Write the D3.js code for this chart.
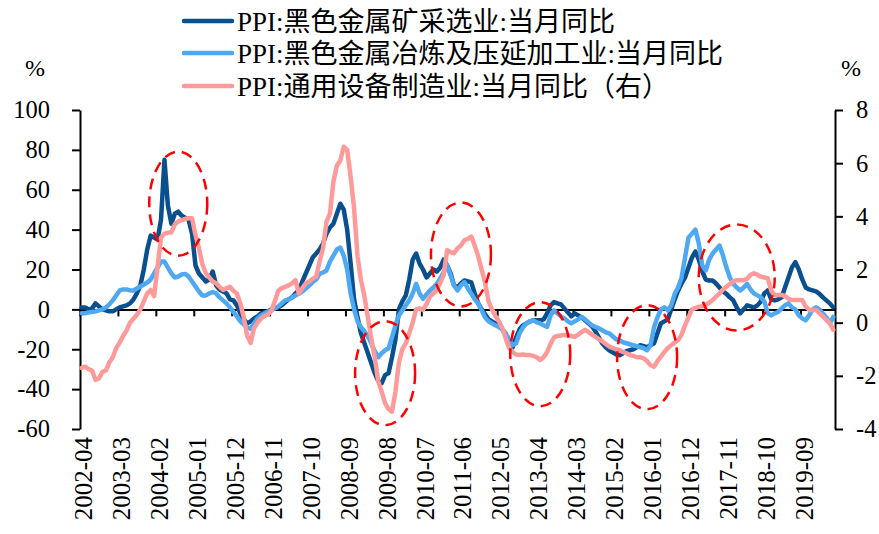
<!DOCTYPE html>
<html>
<head>
<meta charset="utf-8">
<script src="https://cdn.jsdelivr.net/npm/d3@7"></script>
<style>
  html, body { margin: 0; padding: 0; background: #fff; }
  svg { display: block; }
  .serif { font-family: "Liberation Serif", "Noto Sans CJK SC", serif; }
</style>
</head>
<body>
<svg id="chart" width="879" height="534"></svg>
<script>
// Monthly series, starting 2002-04
const startMonth = "2002-04";

// PPI: 黑色金属矿采选业 当月同比 (%)
const miningYoY = [
  1, 1, 0, 0.5, 3, 1.5, 0, -0.5, -1, -1,
  0, 1, 1.5, 2, 3, 5, 8, 12, 20, 30,
  37, 36, 35, 45, 75, 52, 43, 48, 49, 47,
  46, 45, 38, 22, 18, 16, 14, 15, 19, 12,
  10, 9, 8, 5, 4.5, 2, -2, -5, -7, -6,
  -4.5, -3.5, -2, -1.5, -1, 0, 0.5, 1, 2, 3.5,
  5, 6, 8, 9.5, 14, 18, 22, 26, 28, 30,
  33, 38, 41, 43, 48, 53, 50, 40, 23, 5,
  -4, -12, -17, -22, -27, -32, -36, -37, -33, -32,
  -24, -15, 0, 4, 7, 15, 25, 28, 23, 20,
  16, 18, 20, 19, 21, 25, 22, 18, 12, 11,
  13, 14.5, 14, 13.5, 8, 3, 0, -2.5, -5, -6,
  -7, -8, -10, -13, -17, -19, -14, -10, -8, -7,
  -6, -5.5, -5.5, -5.5, -5, -2, 2, 3.7, 3, 2.5,
  0.5, -1.5, -3.5, -2, -3, -4, -5.5, -7, -8.5, -11,
  -14, -17, -19, -20.5, -21.5, -22.5, -23, -22, -21, -20.5,
  -20, -19, -18, -18.5, -19, -18, -17, -12, -7, -6,
  -5, 0, 5, 9.5, 13, 16, 21, 26, 29, 25,
  19, 15, 14.5, 14.5, 13, 11, 9, 7.8, 6, 4.5,
  1, -2, 0, 2, 1.5, 1, 2, 4, 8, 9.5,
  5, 4.5, 5, 6, 11, 16, 21, 23.7, 20, 15,
  11, 10, 9.5, 9, 7.8, 6, 4.5, 3, 1
];

// PPI: 黑色金属冶炼及压延加工业 当月同比 (%)
const smeltingYoY = [
  -2, -2, -1.5, -1.3, -1, -0.5, 0, 1, 2.5, 4.5,
  7, 9.5, 10, 10, 9.5, 9.5, 10.5, 11.5, 12.5, 13.5,
  15, 18, 21, 24, 24, 21, 18, 16, 16.5, 17.5,
  17.8, 16.5, 14, 11.5, 9, 7, 7, 8, 8.7, 8,
  6, 4.5, 3, 1, -1.3, -3.5, -6, -7.5, -9, -9.7,
  -7, -4.5, -3, -2, -1, -0.5, 0.5, 1.5, 3, 4.5,
  5, 6, 7, 7.8, 9, 10.5, 12, 13.7, 15, 17.8,
  18.5, 19.5, 24, 27, 30, 31, 27, 20, 8, 0,
  -6, -9, -11, -13.5, -17, -21, -24, -22, -20.5, -19.5,
  -14, -8, -3, -0.5, 2, 4.5, 8, 12.8, 8, 5.3,
  7.5, 9.5, 11, 12.8, 15.5, 18.5, 22, 17, 12, 9.5,
  12, 13.7, 10.5, 7.8, 5, 3, -0.5, -4, -6, -7,
  -8, -8.8, -10, -12, -15.5, -18, -17, -12, -9, -7,
  -6, -5.5, -6.5, -7, -8, -8.8, -3, -0.5, -2, -3.5,
  -4.5, -6, -7, -6, -5, -3.8, -5, -6.5, -8, -8.8,
  -9.5, -10.5, -11.5, -12, -13.5, -15, -15.5, -16.5, -17, -17.5,
  -18, -18.5, -19, -19.5, -20.5, -18, -9, -4, 0, 1,
  -0.5, 2, 7.8, 11, 16, 26, 36, 38, 40, 33,
  22, 19.5, 25, 28, 30, 32, 27, 21, 16, 12.8,
  11, 9.5, 11, 12.8, 10, 8, 7, 6, 4, -2,
  -3, -2, -1.3, 0.5, 2, 3, 1, 0, -3, -4.5,
  -5.5, -3, 0, 1, 0, -2, -4, -7, -3.8
];

// PPI: 通用设备制造业 当月同比 (%, right axis)
const equipmentYoY = [
  -1.7, -1.65, -1.75, -1.8, -2.15, -2.1, -1.85, -1.8, -1.5, -1.3,
  -0.95, -0.75, -0.5, -0.3, 0, 0.15, 0.3, 0.5, 0.8, 1.1,
  1.23, 1.0, 2.1, 3.2, 3.35, 3.38, 3.4, 3.7, 3.8, 3.86,
  3.9, 3.93, 3.93, 3.3, 2.8, 2.2, 1.86, 1.7, 1.55, 1.48,
  1.35, 1.23, 1.3, 1.35, 1.2, 1.1, 0.73, 0.2, -0.5, -0.76,
  -0.2, 0, 0.15, 0.25, 0.3, 0.45, 0.8, 1.2, 1.3, 1.35,
  1.4, 1.48, 1.6, 1.1, 1.3, 1.48, 1.55, 1.65, 1.73, 2.3,
  2.8, 3.8, 4.1, 5.3, 5.9, 6.1, 6.62, 6.5, 5.5, 4.3,
  2.5, 1.6, 1.0, 0.2, -0.6, -1.3, -2.2, -2.6, -3.03, -3.25,
  -3.35, -2.6, -1.5, -1.0, -0.78, -0.4, 0, 0.5, 0.54, 0.48,
  0.7, 0.98, 1.1, 1.23, 1.5, 1.8, 2.73, 2.65, 2.61, 2.8,
  2.9, 3.1, 3.15, 3.24, 2.9, 2.5, 2.0, 1.5, 0.8, 0.5,
  0.25, 0.05, -0.2, -0.6, -0.95, -1.1, -1.2, -1.22, -1.2, -1.22,
  -1.22, -1.25, -1.3, -1.4, -1.3, -1.1, -0.8, -0.55, -0.5, -0.48,
  -0.46, -0.48, -0.5, -0.53, -0.45, -0.35, -0.27, -0.35, -0.45, -0.53,
  -0.62, -0.7, -0.8, -0.9, -0.95, -1.0, -1.03, -1.1, -1.15, -1.22,
  -1.25, -1.3, -1.3, -1.34, -1.45, -1.6, -1.66, -1.45, -1.28, -1.1,
  -0.95, -0.85, -0.75, -0.65, -0.45, -0.1, 0.2, 0.5, 0.55, 0.6,
  0.62, 0.67, 0.75, 0.85, 0.98, 1.1, 1.25, 1.35, 1.45, 1.55,
  1.6, 1.6, 1.6, 1.65, 1.8, 1.86, 1.8, 1.73, 1.7, 1.67,
  1.2, 1.04, 1.04, 1.04, 1.0, 0.9, 0.85, 0.85, 0.85, 0.85,
  0.6, 0.48, 0.48, 0.48, 0.35, 0.23, 0.1, -0.02, -0.27
];

const xTickLabels = ["2002-04", "2003-03", "2004-02", "2005-01", "2005-12", "2006-11",
  "2007-10", "2008-09", "2009-08", "2010-07", "2011-06", "2012-05", "2013-04",
  "2014-03", "2015-02", "2016-01", "2016-12", "2017-11", "2018-10", "2019-09"];
const leftTicks = [-60, -40, -20, 0, 20, 40, 60, 80, 100];
const rightTicks = [-4, -2, 0, 2, 4, 6, 8];

const seriesNames = [
  "PPI:黑色金属矿采选业:当月同比",
  "PPI:黑色金属冶炼及压延加工业:当月同比",
  "PPI:通用设备制造业:当月同比（右）"
];
const seriesColors = ["#0a4f8e", "#4ea8f2", "#ff9a9a"];

// Highlighted periods: centre month, centre value (left axis)
const highlightMonths = ["2004-08", "2009-08", "2011-06", "2013-05", "2015-12", "2018-02"];
const highlightValues = [53, -32, 27.5, -22.5, -24, 16];

// ---- layout ----
const svg = d3.select("#chart");
const plot = { left: 80, right: 835, top: 110, bottom: 429 };

const parse = d3.timeParse("%Y-%m");
const fmt = d3.timeFormat("%Y-%m");
const n = miningYoY.length;
const months = d3.range(n).map(i => fmt(d3.timeMonth.offset(parse(startMonth), i)));
const idx = m => months.indexOf(m);

const x = d3.scaleLinear().domain([0, n]).range([plot.left, plot.right]);
const yL = d3.scaleLinear().domain([-60, 100]).range([plot.bottom, plot.top]);
const yR = d3.scaleLinear().domain([-4, 8]).range([plot.bottom, plot.top]);

const tickFont = 24.5;
const plainNumber = d => String(d);   // ASCII hyphen for negatives

// Left axis
const gL = svg.append("g")
  .attr("transform", `translate(${plot.left},0)`)
  .call(d3.axisLeft(yL).tickValues(leftTicks).tickFormat(plainNumber)
    .tickSizeInner(8).tickSizeOuter(0).tickPadding(22));
// Right axis
const gR = svg.append("g")
  .attr("transform", `translate(${plot.right},0)`)
  .call(d3.axisRight(yR).tickValues(rightTicks).tickFormat(plainNumber)
    .tickSizeInner(8).tickSizeOuter(0).tickPadding(13));

[gL, gR].forEach(g => {
  g.selectAll("path.domain").attr("stroke", "#000").attr("stroke-width", 2);
  g.selectAll(".tick line").attr("stroke", "#000").attr("stroke-width", 2);
  g.selectAll(".tick text")
    .attr("class", "serif")
    .style("font-size", tickFont + "px")
    .attr("fill", "#000");
});

// Bottom axis at zero line
const tickIdx = xTickLabels.map(idx);
const gX = svg.append("g")
  .attr("transform", `translate(0,${yL(0)})`)
  .call(d3.axisBottom(x).tickValues(tickIdx).tickSizeInner(7).tickSizeOuter(0).tickFormat(""));
gX.selectAll("path.domain").attr("stroke", "#000").attr("stroke-width", 2);
gX.selectAll(".tick line").attr("stroke", "#000").attr("stroke-width", 2);

// Rotated month labels below plot
svg.append("g").selectAll("text")
  .data(xTickLabels)
  .join("text")
  .attr("class", "serif")
  .attr("transform", d => `translate(${x(idx(d) + 0.5)},${plot.bottom + 8}) rotate(-90)`)
  .attr("text-anchor", "end")
  .attr("dy", "0.42em")
  .style("font-size", "25px")
  .attr("fill", "#000")
  .text(d => d);

// Unit labels
svg.append("text").attr("class", "serif").attr("x", 35).attr("y", 68)
  .attr("text-anchor", "middle").attr("dy", "0.35em").style("font-size", "24px").text("%");
svg.append("text").attr("class", "serif").attr("x", 851).attr("y", 68)
  .attr("text-anchor", "middle").attr("dy", "0.35em").style("font-size", "24px").text("%");

// Lines
const lineL = d3.line().x((d, i) => x(i + 0.5)).y(d => yL(d));
const lineR = d3.line().x((d, i) => x(i + 0.5)).y(d => yR(d));

const lines = svg.append("g").attr("fill", "none")
  .attr("stroke-width", 4.5).attr("stroke-linejoin", "round").attr("stroke-linecap", "round");
lines.append("path").attr("d", lineL(miningYoY)).attr("stroke", seriesColors[0]);
lines.append("path").attr("d", lineL(smeltingYoY)).attr("stroke", seriesColors[1]);
lines.append("path").attr("d", lineR(equipmentYoY)).attr("stroke", seriesColors[2]);

// Dashed ellipses marking periods
const ellipseSizes = [[29, 52], [30, 52], [30, 52], [30, 52], [30, 52], [38, 53]];
svg.append("g").selectAll("ellipse")
  .data(highlightMonths)
  .join("ellipse")
  .attr("cx", (d, i) => x(idx(d) + 0.5))
  .attr("cy", (d, i) => yL(highlightValues[i]))
  .attr("rx", (d, i) => ellipseSizes[i][0])
  .attr("ry", (d, i) => ellipseSizes[i][1])
  .attr("fill", "none")
  .attr("stroke", "#ff0000")
  .attr("stroke-width", 2.5)
  .attr("stroke-dasharray", "11 7");

// Legend
const legend = svg.append("g");
const legendY = [21, 53, 86];
seriesNames.forEach((name, i) => {
  legend.append("line")
    .attr("x1", 184).attr("x2", 232)
    .attr("y1", legendY[i]).attr("y2", legendY[i])
    .attr("stroke", seriesColors[i]).attr("stroke-width", 4.5).attr("stroke-linecap", "round");
  legend.append("text")
    .attr("class", "serif")
    .attr("x", 237).attr("y", legendY[i]).attr("dy", "0.36em")
    .style("font-size", "27px").attr("fill", "#000")
    .text(name);
});
</script>
</body>
</html>
